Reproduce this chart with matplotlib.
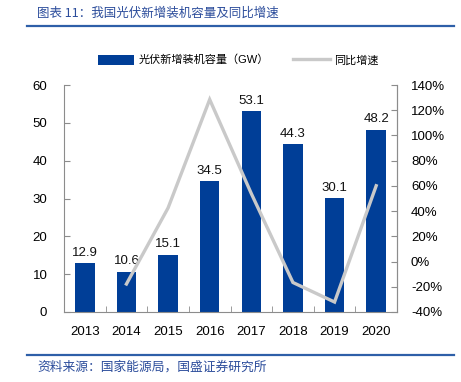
import matplotlib
matplotlib.use("Agg")
import matplotlib.pyplot as plt
from matplotlib.lines import Line2D
from matplotlib.patches import Patch
from matplotlib.ticker import FuncFormatter, MultipleLocator

plt.rcParams['font.family'] = ['Liberation Sans', 'Noto Sans CJK SC', 'DejaVu Sans']

years = ['2013', '2014', '2015', '2016', '2017', '2018', '2019', '2020']
capacity = [12.9, 10.6, 15.1, 34.5, 53.1, 44.3, 30.1, 48.2]
growth_years = ['2014', '2015', '2016', '2017', '2018', '2019', '2020']
growth = [-17.8, 42.5, 128.5, 53.9, -16.6, -32.1, 60.1]

title = '图表 11：我国光伏新增装机容量及同比增速'
source = '资料来源：国家能源局，国盛证券研究所'
bar_label = '光伏新增装机容量（GW）'
line_label = '同比增速'

BAR = '#003E97'
LINE = '#C9C9C9'
SPINE = '#8C8C8C'
TITLE_C = '#2B4C9B'
RULE_C = '#2E5FA8'

W, H = 461, 382
fig = plt.figure(figsize=(W / 100, H / 100), dpi=100)

left, right, top, bottom = 64, 397, 85, 312
ax = fig.add_axes([left / W, 1 - bottom / H, (right - left) / W, (bottom - top) / H])
x = list(range(len(years)))
ax.bar(x, capacity, width=0.47, color=BAR, zorder=2)
ax.set_xlim(-0.5, len(years) - 0.5)
ax.set_ylim(0, 60)
ax.yaxis.set_major_locator(MultipleLocator(10))
ax.set_xticks(x)
ax.set_xticklabels(years, fontsize=9.5)
ax.set_xticks([i + 0.5 for i in x[:-1]], minor=True)
ax.tick_params(axis='x', which='major', length=0, pad=10)
ax.tick_params(axis='x', which='minor', length=4, direction='in', color=SPINE)
ax.tick_params(axis='y', length=4, direction='in', color=SPINE, labelsize=9.5, pad=12)
ax.spines['top'].set_visible(False)
for s in ['left', 'bottom', 'right']:
    ax.spines[s].set_color(SPINE)
    ax.spines[s].set_linewidth(0.8)

for xi, v in zip(x, capacity):
    ax.text(xi, v + 1.2, f'{v:.1f}', ha='center', va='bottom', fontsize=9.5, color='#111111')

ax2 = ax.twinx()
gx = [years.index(y) for y in growth_years]
ax2.plot(gx, growth, color=LINE, lw=2.4, solid_joinstyle='miter', zorder=3)
ax2.set_ylim(-40, 140)
ax2.yaxis.set_major_locator(MultipleLocator(20))
ax2.yaxis.set_major_formatter(FuncFormatter(lambda v, p: f'{v:.0f}%'))
ax2.tick_params(axis='y', length=4, direction='in', color=SPINE, labelsize=9.5, pad=10)
for s in ['top', 'left', 'bottom']:
    ax2.spines[s].set_visible(False)
ax2.spines['right'].set_color(SPINE)
ax2.spines['right'].set_linewidth(0.8)

handles = [Patch(facecolor=BAR, edgecolor='none'), Line2D([0], [0], color=LINE, lw=2.4)]
fig.legend(handles, [bar_label, line_label], loc='center', bbox_to_anchor=(238 / W, 1 - 60 / H),
           ncol=2, frameon=False, fontsize=8, handlelength=3.3, handleheight=1.0,
           columnspacing=2.2, handletextpad=0.35)

fig.text(37 / W, 1 - 13 / H, title, fontsize=9, color=TITLE_C, ha='left', va='center',
         family=['Noto Sans CJK SC'])
fig.text(37 / W, 1 - 367 / H, source, fontsize=9.2, color=TITLE_C, ha='left', va='center',
         family=['Noto Sans CJK SC'])
fig.add_artist(Line2D([27 / W, 454 / W], [1 - 26 / H, 1 - 26 / H], color=RULE_C, lw=1.6))
fig.add_artist(Line2D([27 / W, 454 / W], [1 - 355 / H, 1 - 355 / H], color=RULE_C, lw=1.6))

fig.savefig('out.png', dpi=100)
